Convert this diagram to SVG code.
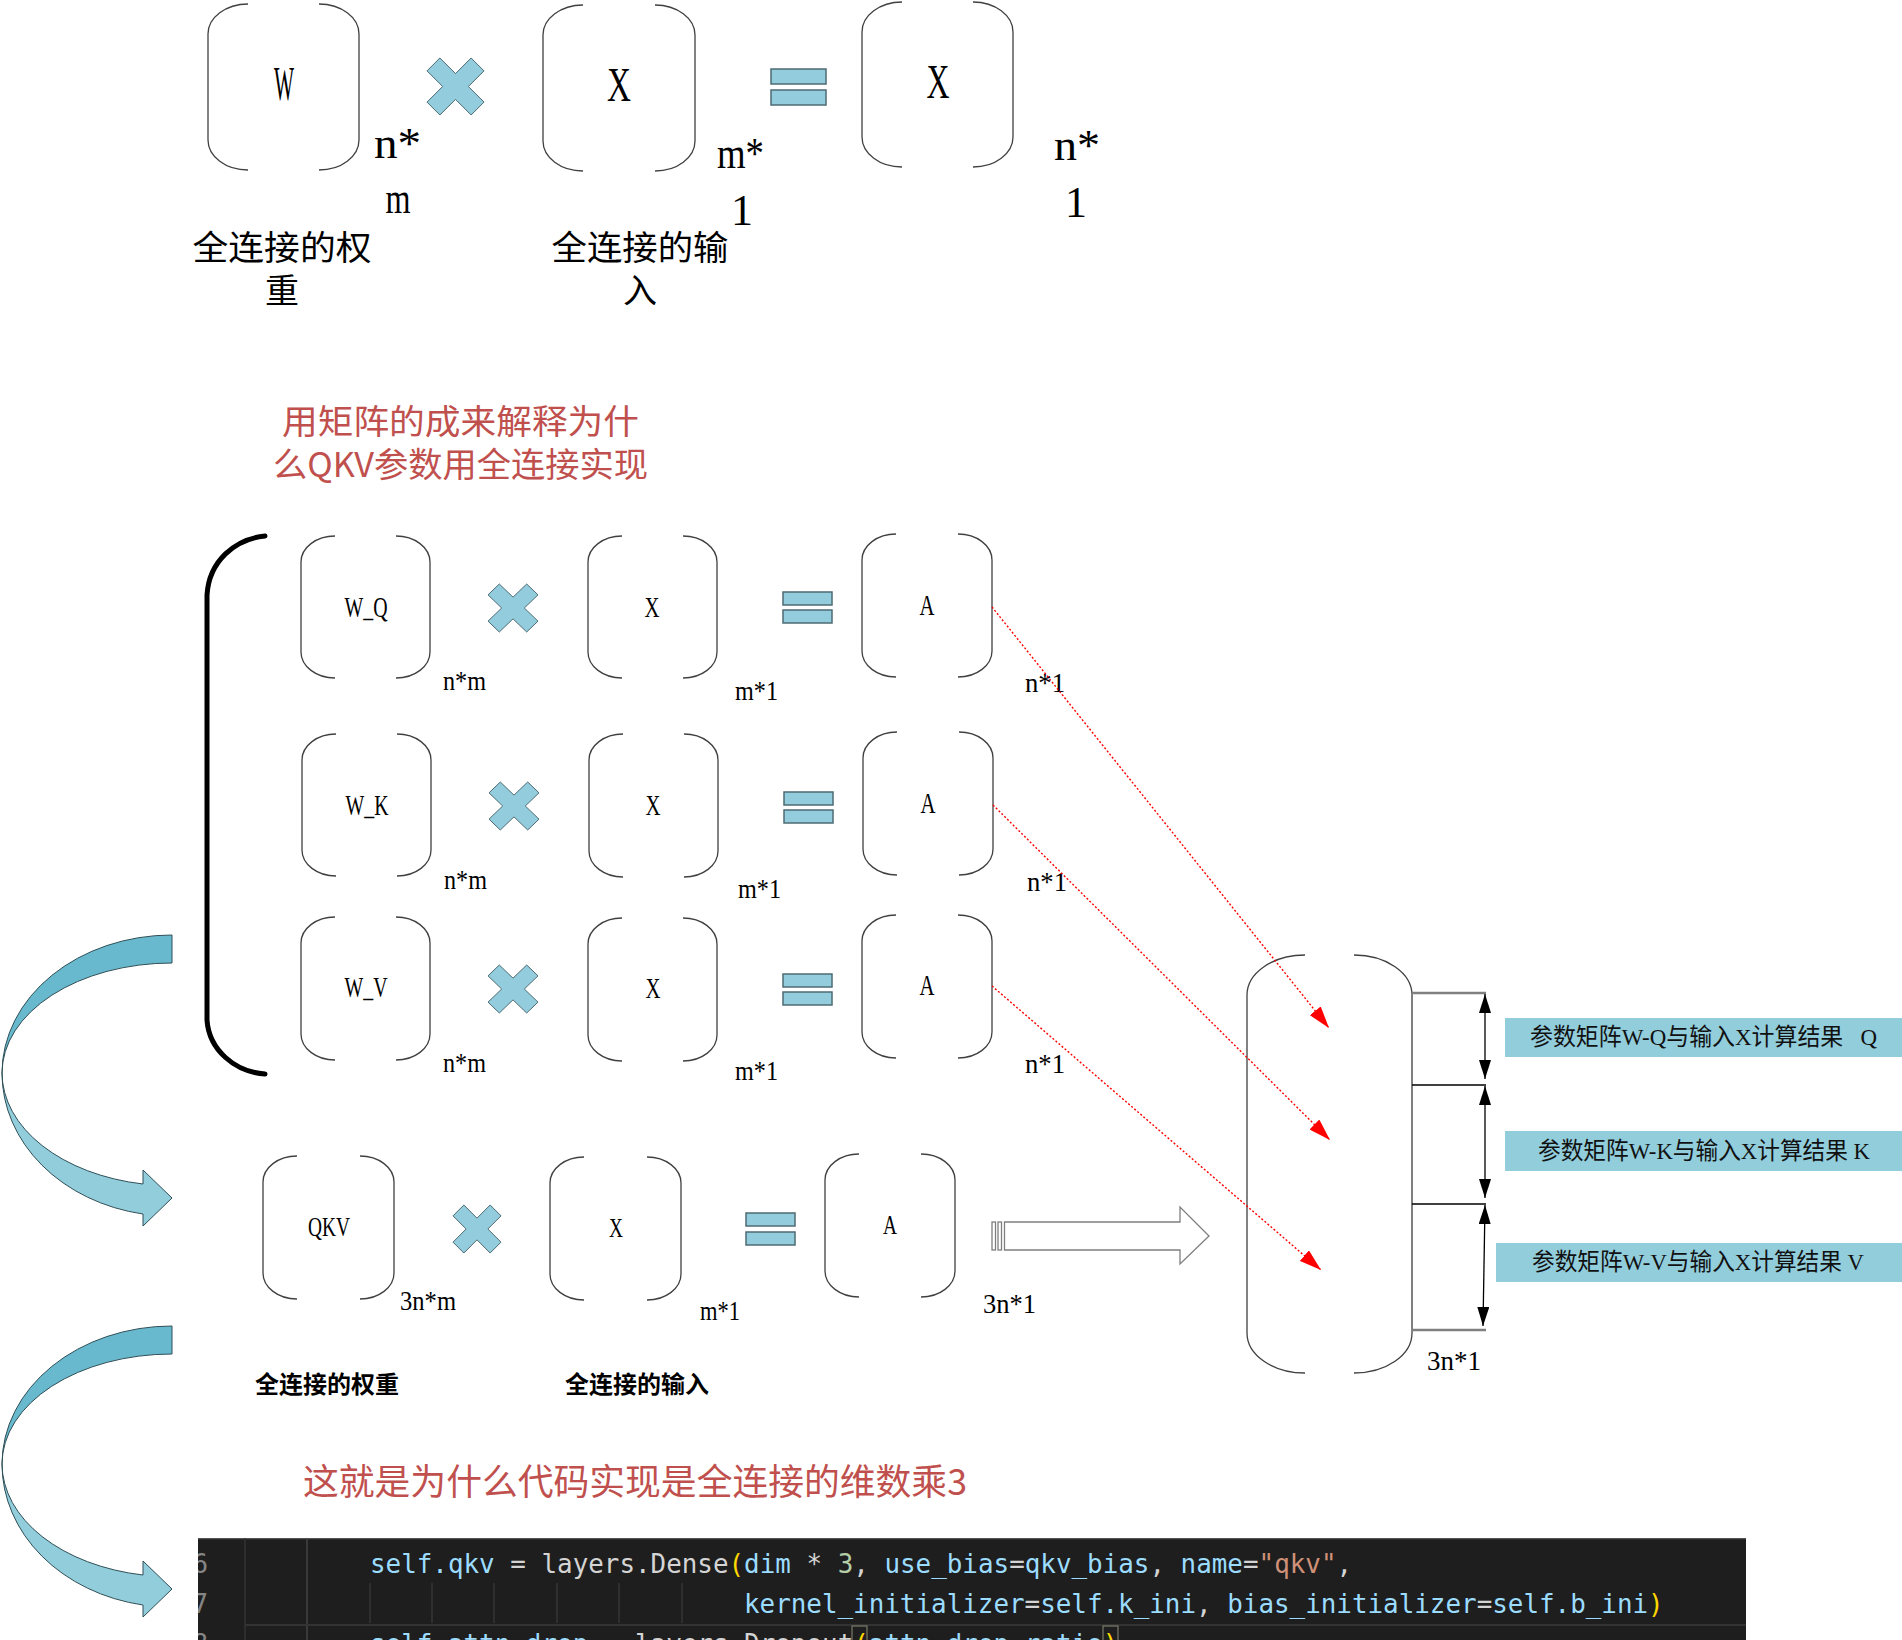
<svg xmlns="http://www.w3.org/2000/svg" xmlns:xlink="http://www.w3.org/1999/xlink" width="1902" height="1640" viewBox="0 0 1902 1640">
<style>
.br{fill:none;stroke:#404040;stroke-width:1.3}
.mul{fill:#93CDDD;stroke:#4D6B73;stroke-width:1}
.eq{fill:#93CDDD;stroke:#4D6B73;stroke-width:1.5}
.lt{font-family:"Liberation Serif","Noto Sans CJK SC",serif;fill:#000}
.cjk{font-family:"Noto Sans CJK SC","Liberation Serif",sans-serif}
.red{fill:#C0504D}
.dot{stroke:#FF0000;stroke-width:1.4;stroke-dasharray:2 2;fill:none;marker-end:url(#ra)}
.dim{stroke:#000;stroke-width:1.3;fill:none;marker-start:url(#ba);marker-end:url(#ba)}
.hl{stroke:#808080;stroke-width:2.5}
.hl2{stroke:#000;stroke-width:1.5}
.blue{fill:#92CDDC}
.bt{font-family:"Liberation Serif","Noto Sans CJK SC",serif;font-size:24px;fill:#111}
.code{font-family:"DejaVu Sans Mono","Liberation Mono",monospace;font-size:25.9px}
.arrD{fill:#68B9CE;stroke:#2F4F57;stroke-width:1}
.arrL{fill:#92CDDC;stroke:#2F4F57;stroke-width:1}
</style>
<defs>
<polygon id="mulp" class="mul" vector-effect="non-scaling-stroke" points="0,-11.3 13.7,-25 25,-13.7 11.3,0 25,13.7 13.7,25 0,11.3 -13.7,25 -25,13.7 -11.3,0 -25,-13.7 -13.7,-25"/>
<marker id="ra" viewBox="0 0 22 14" refX="22" refY="7" markerWidth="22" markerHeight="14" markerUnits="userSpaceOnUse" orient="auto"><path d="M0,0 L22,7 L0,14 Z" fill="#FF0000"/></marker>
<marker id="ba" viewBox="0 0 19 12" refX="19" refY="6" markerWidth="19" markerHeight="12" markerUnits="userSpaceOnUse" orient="auto-start-reverse"><path d="M0,0 L19,6 L0,12 Z" fill="#000"/></marker>
<clipPath id="codeclip"><rect x="198" y="1538" width="1548" height="102"/></clipPath>
</defs>
<rect width="1902" height="1640" fill="#fff"/>

<!-- Top equation -->
<g id="top-W">
<path class="br" d="M248,4 A40,30 0 0 0 208,34 V140 A40,30 0 0 0 248,170 M319,4 A40,30 0 0 1 359,34 V140 A40,30 0 0 1 319,170"/>
<text class="lt" x="284" y="100" font-size="48" text-anchor="middle" textLength="20" lengthAdjust="spacingAndGlyphs">W</text>
<text class="lt" x="374" y="158" font-size="44" textLength="47" lengthAdjust="spacingAndGlyphs">n*</text>
<text class="lt" x="398" y="213" font-size="44" text-anchor="middle" textLength="25" lengthAdjust="spacingAndGlyphs">m</text>
<text class="cjk" x="282" y="260" font-size="34" text-anchor="middle" textLength="179" lengthAdjust="spacingAndGlyphs">全连接的权</text>
<text class="cjk" x="282" y="303" font-size="34" text-anchor="middle">重</text>
</g>
<g id="top-mul"><use xlink:href="#mulp" transform="translate(455.5,86.5) scale(1.14)"/></g>
<g id="top-X">
<path class="br" d="M583,5 A40,30 0 0 0 543,35 V141 A40,30 0 0 0 583,171 M655,5 A40,30 0 0 1 695,35 V141 A40,30 0 0 1 655,171"/>
<text class="lt" x="619" y="101" font-size="48" text-anchor="middle" textLength="24" lengthAdjust="spacingAndGlyphs">X</text>
<text class="lt" x="717" y="168" font-size="44" textLength="47" lengthAdjust="spacingAndGlyphs">m*</text>
<text class="lt" x="742" y="225" font-size="44" text-anchor="middle">1</text>
<text class="cjk" x="640" y="260" font-size="34" text-anchor="middle" textLength="177" lengthAdjust="spacingAndGlyphs">全连接的输</text>
<text class="cjk" x="640" y="303" font-size="34" text-anchor="middle">入</text>
</g>
<g id="top-eq"><rect class="eq" x="771" y="69" width="55" height="15"/><rect class="eq" x="771" y="90" width="55" height="15"/></g>
<g id="top-Xres">
<path class="br" d="M902,2 A40,30 0 0 0 862,32 V137 A40,30 0 0 0 902,167 M973,2 A40,30 0 0 1 1013,32 V137 A40,30 0 0 1 973,167"/>
<text class="lt" x="938" y="98" font-size="48" text-anchor="middle" textLength="23" lengthAdjust="spacingAndGlyphs">X</text>
<text class="lt" x="1054" y="160" font-size="44" textLength="46" lengthAdjust="spacingAndGlyphs">n*</text>
<text class="lt" x="1076" y="217" font-size="44" text-anchor="middle">1</text>
</g>

<!-- Red title -->
<g id="title1">
<text class="cjk red" x="282" y="434" font-size="34" textLength="357" lengthAdjust="spacingAndGlyphs">用矩阵的成来解释为什</text>
<text class="cjk red" x="273" y="477" font-size="34" textLength="375" lengthAdjust="spacingAndGlyphs">么QKV参数用全连接实现</text>
</g>

<!-- Brace -->
<g id="brace"><path d="M265,536 C235,539 209,561 207,595 V1020 C209,1050 235,1072 265,1074" fill="none" stroke="#000" stroke-width="5" stroke-linecap="round"/></g>

<!-- Q row -->
<g id="row-Q">
<g id="WQ"><path class="br" d="M335,536 A34,26 0 0 0 301,562 V652 A34,26 0 0 0 335,678 M396,536 A34,26 0 0 1 430,562 V652 A34,26 0 0 1 396,678"/>
<text class="lt" x="366" y="617" font-size="30" text-anchor="middle" textLength="43" lengthAdjust="spacingAndGlyphs">W_Q</text>
<text class="lt" x="443" y="690" font-size="28" textLength="43" lengthAdjust="spacingAndGlyphs">n*m</text></g>
<use xlink:href="#mulp" transform="translate(513,608) scale(1,0.96)"/>
<g id="XQ"><path class="br" d="M622,536 A34,26 0 0 0 588,562 V652 A34,26 0 0 0 622,678 M683,536 A34,26 0 0 1 717,562 V652 A34,26 0 0 1 683,678"/>
<text class="lt" x="652" y="617" font-size="30" text-anchor="middle" textLength="15" lengthAdjust="spacingAndGlyphs">X</text>
<text class="lt" x="735" y="700" font-size="28" textLength="43" lengthAdjust="spacingAndGlyphs">m*1</text></g>
<rect class="eq" x="783" y="592" width="49" height="13"/><rect class="eq" x="783" y="610" width="49" height="13"/>
<g id="AQ"><path class="br" d="M896,534 A34,26 0 0 0 862,560 V651 A34,26 0 0 0 896,677 M958,534 A34,26 0 0 1 992,560 V651 A34,26 0 0 1 958,677"/>
<text class="lt" x="927" y="615" font-size="30" text-anchor="middle" textLength="15" lengthAdjust="spacingAndGlyphs">A</text>
<text class="lt" x="1025" y="692" font-size="28" textLength="40" lengthAdjust="spacingAndGlyphs">n*1</text></g>
</g>

<!-- K row -->
<g id="row-K">
<g id="WK"><path class="br" d="M336,734 A34,26 0 0 0 302,760 V850 A34,26 0 0 0 336,876 M397,734 A34,26 0 0 1 431,760 V850 A34,26 0 0 1 397,876"/>
<text class="lt" x="367" y="815" font-size="30" text-anchor="middle" textLength="43" lengthAdjust="spacingAndGlyphs">W_K</text>
<text class="lt" x="444" y="889" font-size="28" textLength="43" lengthAdjust="spacingAndGlyphs">n*m</text></g>
<use xlink:href="#mulp" transform="translate(514,806) scale(1,0.96)"/>
<g id="XK"><path class="br" d="M623,734 A34,26 0 0 0 589,760 V851 A34,26 0 0 0 623,877 M684,734 A34,26 0 0 1 718,760 V851 A34,26 0 0 1 684,877"/>
<text class="lt" x="653" y="815" font-size="30" text-anchor="middle" textLength="15" lengthAdjust="spacingAndGlyphs">X</text>
<text class="lt" x="738" y="898" font-size="28" textLength="43" lengthAdjust="spacingAndGlyphs">m*1</text></g>
<rect class="eq" x="784" y="792" width="49" height="13"/><rect class="eq" x="784" y="810" width="49" height="13"/>
<g id="AK"><path class="br" d="M897,732 A34,26 0 0 0 863,758 V849 A34,26 0 0 0 897,875 M959,732 A34,26 0 0 1 993,758 V849 A34,26 0 0 1 959,875"/>
<text class="lt" x="928" y="813" font-size="30" text-anchor="middle" textLength="15" lengthAdjust="spacingAndGlyphs">A</text>
<text class="lt" x="1027" y="891" font-size="28" textLength="40" lengthAdjust="spacingAndGlyphs">n*1</text></g>
</g>

<!-- V row -->
<g id="row-V">
<g id="WV"><path class="br" d="M335,917 A34,26 0 0 0 301,943 V1034 A34,26 0 0 0 335,1060 M396,917 A34,26 0 0 1 430,943 V1034 A34,26 0 0 1 396,1060"/>
<text class="lt" x="366" y="997" font-size="30" text-anchor="middle" textLength="43" lengthAdjust="spacingAndGlyphs">W_V</text>
<text class="lt" x="443" y="1072" font-size="28" textLength="43" lengthAdjust="spacingAndGlyphs">n*m</text></g>
<use xlink:href="#mulp" transform="translate(513,989) scale(1,0.96)"/>
<g id="XV"><path class="br" d="M622,918 A34,26 0 0 0 588,944 V1035 A34,26 0 0 0 622,1061 M683,918 A34,26 0 0 1 717,944 V1035 A34,26 0 0 1 683,1061"/>
<text class="lt" x="653" y="998" font-size="30" text-anchor="middle" textLength="15" lengthAdjust="spacingAndGlyphs">X</text>
<text class="lt" x="735" y="1080" font-size="28" textLength="43" lengthAdjust="spacingAndGlyphs">m*1</text></g>
<rect class="eq" x="783" y="974" width="49" height="13"/><rect class="eq" x="783" y="992" width="49" height="13"/>
<g id="AV"><path class="br" d="M896,915 A34,26 0 0 0 862,941 V1032 A34,26 0 0 0 896,1058 M958,915 A34,26 0 0 1 992,941 V1032 A34,26 0 0 1 958,1058"/>
<text class="lt" x="927" y="995" font-size="30" text-anchor="middle" textLength="15" lengthAdjust="spacingAndGlyphs">A</text>
<text class="lt" x="1025" y="1073" font-size="28" textLength="40" lengthAdjust="spacingAndGlyphs">n*1</text></g>
</g>

<!-- QKV row -->
<g id="row-QKV">
<g id="QKV"><path class="br" d="M297,1156 A34,26 0 0 0 263,1182 V1273 A34,26 0 0 0 297,1299 M360,1156 A34,26 0 0 1 394,1182 V1273 A34,26 0 0 1 360,1299"/>
<text class="lt" x="329" y="1236" font-size="28" text-anchor="middle" textLength="42" lengthAdjust="spacingAndGlyphs">QKV</text>
<text class="lt" x="400" y="1310" font-size="28" textLength="56" lengthAdjust="spacingAndGlyphs">3n*m</text></g>
<use xlink:href="#mulp" transform="translate(477,1229) scale(0.96)"/>
<g id="XQKV"><path class="br" d="M584,1157 A34,26 0 0 0 550,1183 V1274 A34,26 0 0 0 584,1300 M647,1157 A34,26 0 0 1 681,1183 V1274 A34,26 0 0 1 647,1300"/>
<text class="lt" x="616" y="1237" font-size="28" text-anchor="middle" textLength="14" lengthAdjust="spacingAndGlyphs">X</text>
<text class="lt" x="700" y="1320" font-size="28" textLength="40" lengthAdjust="spacingAndGlyphs">m*1</text></g>
<rect class="eq" x="746" y="1213" width="49" height="13"/><rect class="eq" x="746" y="1232" width="49" height="13"/>
<g id="AQKV"><path class="br" d="M859,1154 A34,26 0 0 0 825,1180 V1271 A34,26 0 0 0 859,1297 M921,1154 A34,26 0 0 1 955,1180 V1271 A34,26 0 0 1 921,1297"/>
<text class="lt" x="890" y="1234" font-size="28" text-anchor="middle" textLength="14" lengthAdjust="spacingAndGlyphs">A</text>
<text class="lt" x="983" y="1313" font-size="28" textLength="53" lengthAdjust="spacingAndGlyphs">3n*1</text></g>
<g id="bigArrow" fill="#fff" stroke="#7F7F7F" stroke-width="1.3">
<rect x="992" y="1222" width="3.5" height="28"/><rect x="998" y="1222" width="3.5" height="28"/>
<path d="M1004.5,1222 H1180 V1207 L1209,1236 L1180,1264 V1250 H1004.5 Z"/>
</g>
</g>

<g id="labels-bottom">
<text class="cjk" x="255" y="1393" font-size="24" font-weight="bold">全连接的权重</text>
<text class="cjk" x="565" y="1393" font-size="24" font-weight="bold">全连接的输入</text>
</g>

<!-- Capsule result -->
<g id="capsule">
<path class="br" d="M1305,955 A58,40 0 0 0 1247,995 V1333 A58,40 0 0 0 1305,1373 M1354,955 A58,40 0 0 1 1412,995 V1333 A58,40 0 0 1 1354,1373"/>
<line x1="1412" y1="993" x2="1412" y2="1330" stroke="#808080" stroke-width="2"/>
<text class="lt" x="1427" y="1370" font-size="28" textLength="54" lengthAdjust="spacingAndGlyphs">3n*1</text>
</g>

<g id="label-Q"><rect class="blue" x="1505" y="1018" width="397" height="39"/><text class="bt" x="1530" y="1045" textLength="347" lengthAdjust="spacingAndGlyphs" xml:space="preserve">参数矩阵W-Q与输入X计算结果   Q</text></g>
<g id="label-K"><rect class="blue" x="1505" y="1131" width="397" height="40"/><text class="bt" x="1538" y="1159" textLength="332" lengthAdjust="spacingAndGlyphs" xml:space="preserve">参数矩阵W-K与输入X计算结果 K</text></g>
<g id="label-V"><rect class="blue" x="1496" y="1243" width="406" height="39"/><text class="bt" x="1532" y="1270" textLength="332" lengthAdjust="spacingAndGlyphs" xml:space="preserve">参数矩阵W-V与输入X计算结果 V</text></g>

<!-- curved arrows -->
<g id="curve1">
<path class="arrD" d="M172,935 A170,138 0 0 0 2,1073 A170,110 0 0 1 172,963 Z"/>
<path class="arrL" d="M2,1073 A170,143 0 0 0 143,1214 L143,1226 L172,1198 L143,1170 L143,1184 A170,113 0 0 1 2,1073 Z"/>
</g>
<g id="curve2" transform="translate(0,391)">
<path class="arrD" d="M172,935 A170,138 0 0 0 2,1073 A170,110 0 0 1 172,963 Z"/>
<path class="arrL" d="M2,1073 A170,143 0 0 0 143,1214 L143,1226 L172,1198 L143,1170 L143,1184 A170,113 0 0 1 2,1073 Z"/>
</g>

<g id="title2"><text class="cjk red" x="303" y="1495" font-size="36" textLength="664" lengthAdjust="spacingAndGlyphs">这就是为什么代码实现是全连接的维数乘3</text></g>

<!-- code screenshot -->
<g id="code" clip-path="url(#codeclip)">
<rect x="198" y="1538" width="1548" height="102" fill="#1E1E1E"/>
<line x1="198" y1="1538.5" x2="1746" y2="1538.5" stroke="#555" stroke-width="1.5"/>
<line x1="245" y1="1538" x2="245" y2="1640" stroke="#333" stroke-width="1.5"/>
<line x1="307" y1="1538" x2="307" y2="1640" stroke="#444" stroke-width="1.5"/>
<g stroke="#404040" stroke-width="1"><line x1="370" y1="1583" x2="370" y2="1623"/><line x1="432" y1="1583" x2="432" y2="1623"/><line x1="494" y1="1583" x2="494" y2="1623"/><line x1="557" y1="1583" x2="557" y2="1623"/><line x1="619" y1="1583" x2="619" y2="1623"/><line x1="682" y1="1583" x2="682" y2="1623"/></g>
<line x1="245" y1="1625" x2="1746" y2="1625" stroke="#333" stroke-width="2"/>
<rect x="852" y="1626" width="15" height="20" fill="none" stroke="#7a7a6a" stroke-width="1.2"/>
<rect x="1103" y="1626" width="15" height="20" fill="none" stroke="#7a7a6a" stroke-width="1.2"/>
<g class="code" fill="#858585" text-anchor="end"><text x="208" y="1573">6</text><text x="208" y="1613">7</text><text x="208" y="1653">8</text></g>
<text class="code" x="370" y="1573" xml:space="preserve"><tspan fill="#9CDCFE">self.qkv</tspan><tspan fill="#D4D4D4"> = layers.Dense</tspan><tspan fill="#FFD700">(</tspan><tspan fill="#9CDCFE">dim</tspan><tspan fill="#D4D4D4"> * </tspan><tspan fill="#B5CEA8">3</tspan><tspan fill="#D4D4D4">, </tspan><tspan fill="#9CDCFE">use_bias</tspan><tspan fill="#D4D4D4">=</tspan><tspan fill="#9CDCFE">qkv_bias</tspan><tspan fill="#D4D4D4">, </tspan><tspan fill="#9CDCFE">name</tspan><tspan fill="#D4D4D4">=</tspan><tspan fill="#CE9178">"qkv"</tspan><tspan fill="#D4D4D4">,</tspan></text>
<text class="code" x="744" y="1613" xml:space="preserve"><tspan fill="#9CDCFE">kernel_initializer</tspan><tspan fill="#D4D4D4">=</tspan><tspan fill="#9CDCFE">self.k_ini</tspan><tspan fill="#D4D4D4">, </tspan><tspan fill="#9CDCFE">bias_initializer</tspan><tspan fill="#D4D4D4">=</tspan><tspan fill="#9CDCFE">self.b_ini</tspan><tspan fill="#FFD700">)</tspan></text>
<text class="code" x="370" y="1653" xml:space="preserve"><tspan fill="#9CDCFE">self.attn_drop</tspan><tspan fill="#D4D4D4"> = layers.Dropout</tspan><tspan fill="#FFD700">(</tspan><tspan fill="#9CDCFE">attn_drop_ratio</tspan><tspan fill="#FFD700">)</tspan></text>
</g>

<!-- connectors -->
<g id="connectors">
<path class="dot" d="M992,607 L1329,1028"/>
<path class="dot" d="M993,805 L1330,1140"/>
<path class="dot" d="M992,986 L1321,1270"/>
<line class="hl" x1="1412" y1="993" x2="1486" y2="993"/>
<line class="hl2" x1="1412" y1="1085" x2="1486" y2="1085"/>
<line class="hl2" x1="1412" y1="1204" x2="1486" y2="1204"/>
<line class="hl" x1="1412" y1="1330" x2="1486" y2="1330"/>
<path class="dim" d="M1485,994 L1485,1079"/>
<path class="dim" d="M1485,1086 L1485,1198"/>
<path class="dim" d="M1485,1205 L1483,1326"/>
</g>
</svg>
